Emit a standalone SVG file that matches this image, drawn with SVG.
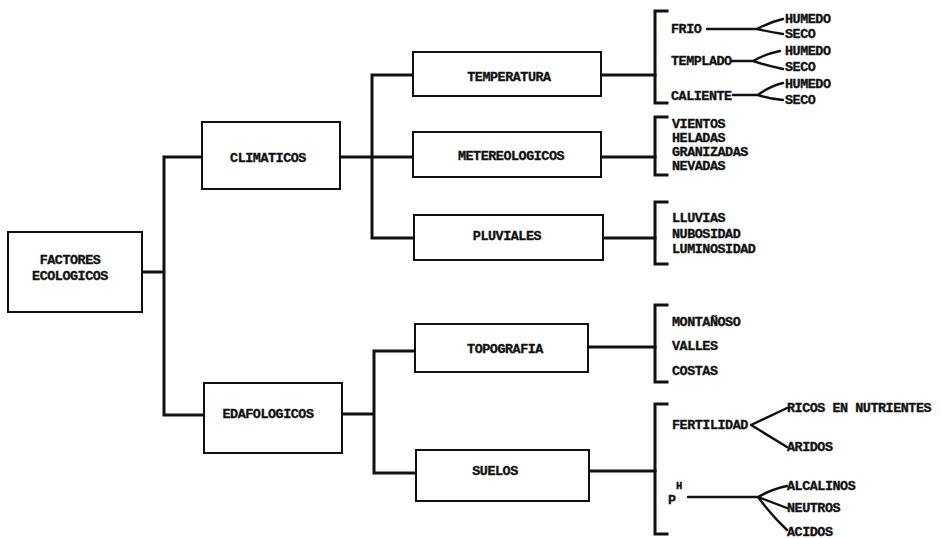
<svg xmlns="http://www.w3.org/2000/svg" width="941" height="538" viewBox="0 0 941 538">
<style>
.box{fill:#fff;stroke:#111;stroke-width:2}
.t{font-family:"Liberation Mono","DejaVu Sans Mono",monospace;font-weight:bold;font-size:13.4px;letter-spacing:-0.45px;fill:#111;stroke:#111;stroke-width:0.35}
.c{text-anchor:middle}
.ln{fill:none;stroke:#111;stroke-width:3;stroke-linecap:square}
.fk{fill:none;stroke:#111;stroke-width:2.4;stroke-linecap:round}
.sup{font-size:10.5px}
</style>
<rect width="941" height="538" fill="#fff"/>
<g id="connectors">
<path class="ln" d="M142,272 H164 M164,157 V415 M164,157 H202 M164,415 H204"/>
<path class="ln" d="M340,157 H413 M372,75 V238 M372,75 H413 M372,238 H414"/>
<path class="ln" d="M342,414 H374 M374,351 V473 M374,351 H415 M374,473 H416"/>
<path class="ln" d="M601,75 H655 M601,157 H655 M603,238 H655 M588,347 H655 M589,471 H655"/>
<path class="ln" d="M667,11 H655 V103 H667"/>
<path class="ln" d="M667,117 H655 V175 H667"/>
<path class="ln" d="M667,202 H655 V264 H667"/>
<path class="ln" d="M667,305 H655 V382 H667"/>
<path class="ln" d="M667,404 H655 V534 H667"/>
<path class="fk" d="M707,29 H757 M757,29 Q770,22 783,19 M757,29 Q770,32 783,34"/>
<path class="fk" d="M732,61 H753 M753,61 Q765,54 780,51 M753,61 Q768,66 783,69"/>
<path class="fk" d="M733,95 H758 M758,95 Q770,86 783,83 M758,95 Q770,99 783,100"/>
<path class="fk" d="M751,425 L787,408 M751,425 L787,447"/>
<path class="fk" d="M688,497 H758 M758,497 Q772,489 787,486 M758,497 L787,508 M758,497 Q772,516 787,530"/>
</g>
<g id="factores">
<rect class="box" x="8" y="232" width="134" height="80"/>
<text class="t c" x="70" y="264">FACTORES</text>
<text class="t c" x="70" y="280">ECOLOGICOS</text>
</g>
<g id="climaticos">
<rect class="box" x="202" y="122" width="138" height="67"/>
<text class="t c" x="268" y="161.5">CLIMATICOS</text>
</g>
<g id="edafologicos">
<rect class="box" x="204" y="383" width="138" height="70"/>
<text class="t c" x="268" y="417.5">EDAFOLOGICOS</text>
</g>
<g id="temperatura">
<rect class="box" x="413" y="52" width="188" height="44"/>
<text class="t c" x="509" y="80.5">TEMPERATURA</text>
</g>
<g id="metereologicos">
<rect class="box" x="413" y="132" width="188" height="45"/>
<text class="t c" x="511" y="159.5">METEREOLOGICOS</text>
</g>
<g id="pluviales">
<rect class="box" x="414" y="215" width="189" height="45"/>
<text class="t c" x="507" y="239.5">PLUVIALES</text>
</g>
<g id="topografia">
<rect class="box" x="415" y="324" width="173" height="48"/>
<text class="t c" x="505" y="352.5">TOPOGRAFIA</text>
</g>
<g id="suelos">
<rect class="box" x="416" y="450" width="173" height="51"/>
<text class="t c" x="495" y="474.5">SUELOS</text>
</g>
<g id="temperatura-items">
<text class="t" x="671" y="33">FRIO</text>
<text class="t" x="785" y="23">HUMEDO</text>
<text class="t" x="785" y="38">SECO</text>
<text class="t" x="671" y="65">TEMPLADO</text>
<text class="t" x="785" y="55">HUMEDO</text>
<text class="t" x="785" y="70.5">SECO</text>
<text class="t" x="671" y="99.5">CALIENTE</text>
<text class="t" x="785" y="87.5">HUMEDO</text>
<text class="t" x="785" y="103.5">SECO</text>
</g>
<g id="metereologicos-items">
<text class="t" x="672" y="127.5">VIENTOS</text>
<text class="t" x="672" y="141.5">HELADAS</text>
<text class="t" x="672" y="155.5">GRANIZADAS</text>
<text class="t" x="672" y="169.5">NEVADAS</text>
</g>
<g id="pluviales-items">
<text class="t" x="672" y="221.5">LLUVIAS</text>
<text class="t" x="672" y="237.5">NUBOSIDAD</text>
<text class="t" x="672" y="252.5">LUMINOSIDAD</text>
</g>
<g id="topografia-items">
<text class="t" x="672" y="325.5">MONTAÑOSO</text>
<text class="t" x="672" y="349.5">VALLES</text>
<text class="t" x="672" y="374.5">COSTAS</text>
</g>
<g id="suelos-items">
<text class="t" x="672" y="429">FERTILIDAD</text>
<text class="t" x="787" y="412">RICOS EN NUTRIENTES</text>
<text class="t" x="787" y="451">ARIDOS</text>
<text class="t" x="668" y="504">P</text>
<text class="t sup" x="676" y="489">H</text>
<text class="t" x="787" y="490">ALCALINOS</text>
<text class="t" x="787" y="512">NEUTROS</text>
<text class="t" x="787" y="535.5">ACIDOS</text>
</g>
</svg>
